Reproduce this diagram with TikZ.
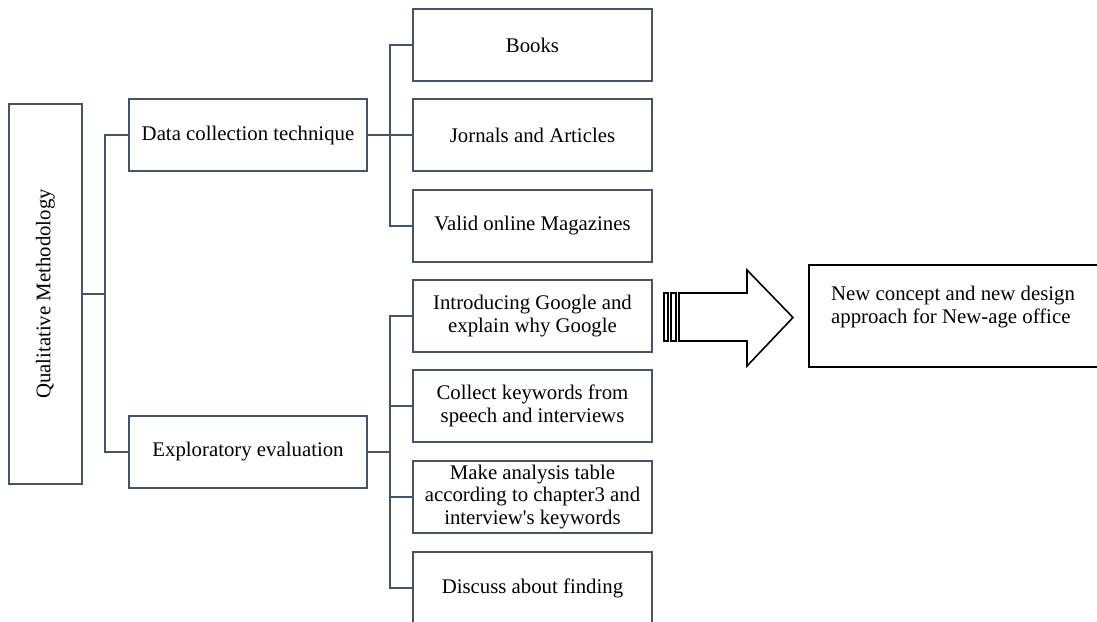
\documentclass[tikz,border=0pt]{standalone}
\usepackage{fontspec}
\setmainfont{Liberation Serif}[Ligatures=TeXOff]
\definecolor{slate}{HTML}{44546A}
\begin{document}
\begin{tikzpicture}[x=1pt,y=-1pt,
  every node/.style={font=\fontsize{20.8}{22.5}\selectfont, inner sep=0pt},
  box/.style={draw=slate, line width=1.9pt, minimum width=239pt, minimum height=72pt, align=center},
  sidebox/.style={box, minimum width=238pt},
  link/.style={draw=slate, line width=1.9pt}]
\clip (0,0) rectangle (1097,621);
\useasboundingbox (0,0) rectangle (1097,621);

% root
\node[box, minimum width=73pt, minimum height=380pt] (qm) at (45.5,294) {};
\node[rotate=90] (qmt) at (qm.center) {Qualitative Methodology};

% second level
\node[sidebox] (dc) at (248,135) {Data collection technique};
\node[sidebox] (ee) at (248,452) {Exploratory evaluation};

% third level
\node[box] (books) at (532.5,45) {Books};
\node[box] (jor) at (532.5,135) {Jornals and Articles};
\node[box] (mag) at (532.5,226) {Valid online Magazines};
\node[box] (intro) at (532.5,316) {Introducing Google and\\explain why Google};
\node[box] (coll) at (532.5,406) {Collect keywords from\\speech and interviews};
\node[box] (make) at (532.5,497) {Make analysis table\\according to chapter3 and\\interview's keywords};
\node[box] (disc) at (532.5,588) {Discuss about finding};

% connectors
\coordinate (j1) at (105,294);
\coordinate (j2) at (390,135);
\coordinate (j3) at (390,452);
\draw[link] (qm.east) -- (j1);
\draw[link] (dc.west) -| (j1);
\draw[link] (ee.west) -| (j1);
\draw[link] (dc.east) -- (j2);
\draw[link] (books.west) -| (j2);
\draw[link] (jor.west) -- (j2);
\draw[link] (mag.west) -| (j2);
\draw[link] (ee.east) -- (j3);
\draw[link] (intro.west) -| (j3);
\draw[link] (coll.west) -| (j3);
\draw[link] (make.west) -| (j3);
\draw[link] (disc.west) -| (j3);

% striped block arrow
\draw[black, line width=1.6pt] (664,293) rectangle (668,341);
\draw[black, line width=1.6pt] (671,293) rectangle (676,341);
\draw[black, line width=1.6pt, line join=miter]
  (679,293) -- (747,293) -- (747,270) -- (793,317.5) -- (747,366) -- (747,341) -- (679,341) -- cycle;

% result box
\node[draw=black, line width=1.9pt, minimum width=310pt, minimum height=102pt] (newbox) at (964,316) {};
\node[anchor=north west, align=left] (newt) at (831,286) {New concept and new design\\approach for New-age office};
\end{tikzpicture}
\end{document}
